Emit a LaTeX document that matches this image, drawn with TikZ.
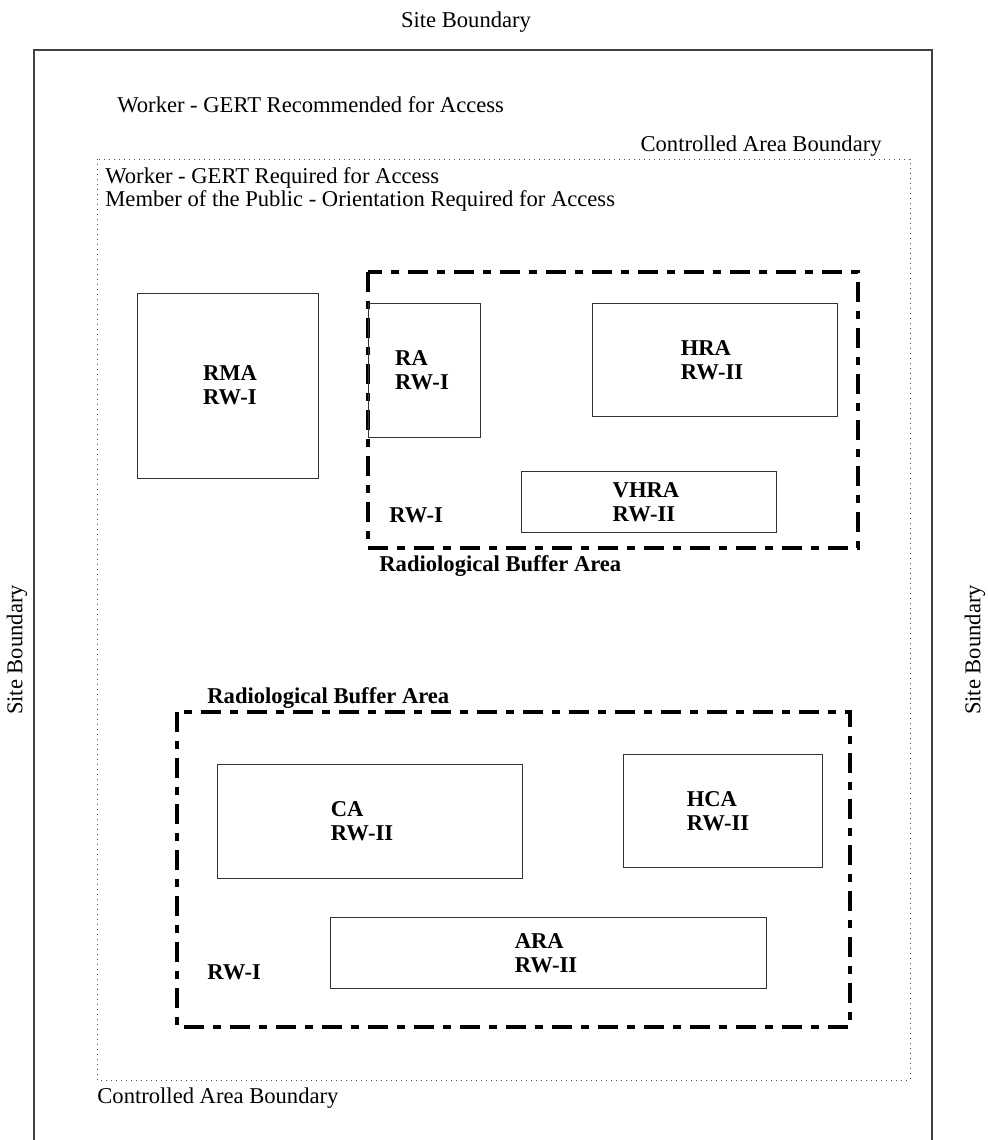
\documentclass[tikz,border=0pt]{standalone}
\usepackage{fontspec}
\setmainfont{Liberation Serif}
\usetikzlibrary{positioning}

\begin{document}
\begin{tikzpicture}[
    x=0.5pt, y=-0.5pt,
    site/.style={draw=black!75, line width=0.7pt},
    ctrl/.style={draw=black!70, line width=0.5pt, dotted},
    buffer/.style={draw=black, line width=1.8pt,
                   dash pattern=on 10pt off 4.5pt on 4pt off 4.5pt},
    zone/.style={draw=black!80, line width=0.5pt},
    txt/.style={font=\fontsize{11.3}{9.6}\selectfont, inner sep=0pt, align=left},
    tag/.style={txt, font=\fontsize{11.3}{11.8}\selectfont\bfseries},
]
\useasboundingbox (0,0) rectangle (987,1140);

% Site boundary (open at the bottom)
\draw[site] (34,1141) -- (34,50) -- (932,50) -- (932,1141);
\node[txt] (sitetop) at (466,22) {Site Boundary};
\node[txt, rotate=90] (siteleft) at (17,650) {Site Boundary};
\node[txt, rotate=90] (siteright) at (975,650) {Site Boundary};
\node[txt, anchor=west] (recommended) at (117,105) {Worker - GERT Recommended for Access};

% === Controlled area ===
\draw[ctrl] (97,159) rectangle (910,1080);
\node[txt, anchor=east] (ctrltop) at (882,146) {Controlled Area Boundary};
\node[txt, anchor=north west] (required) at (105,167)
    {Worker - GERT Required for Access\\Member of the Public - Orientation Required for Access};
\node[txt, anchor=west] (ctrlbottom) at (97,1098) {Controlled Area Boundary};

% RMA
\draw[zone] (137,293) rectangle (318,478);
\node[tag] (rma) at (230,385) {RMA\\RW-I};

% === Upper radiological buffer area ===
\draw[buffer] (368,272) rectangle (858,548);
\draw[zone] (368,303) rectangle (480,437);
\node[tag] (ra) at (422,370) {RA\\RW-I};
\draw[zone] (592,303) rectangle (837,416);
\node[tag] (hra) at (712,360) {HRA\\RW-II};
\draw[zone] (521,471) rectangle (776,532);
\node[tag] (vhra) at (646,502) {VHRA\\RW-II};
\node[tag, anchor=west] (rwupper) at (389,515) {RW-I};
\node[tag, anchor=west] (rbaupper) at (379,566) {Radiological Buffer Area};

% === Lower radiological buffer area ===
\draw[buffer] (177,712) rectangle (850,1027);
\node[tag, anchor=west] (rbalower) at (207,698) {Radiological Buffer Area};
\draw[zone] (217,764) rectangle (522,878);
\node[tag] (ca) at (362,821) {CA\\RW-II};
\draw[zone] (623,754) rectangle (822,867);
\node[tag] (hca) at (718,811) {HCA\\RW-II};
\draw[zone] (330,917) rectangle (766,988);
\node[tag] (ara) at (546,953) {ARA\\RW-II};
\node[tag, anchor=west] (rwlower) at (207,972) {RW-I};

\end{tikzpicture}
\end{document}
